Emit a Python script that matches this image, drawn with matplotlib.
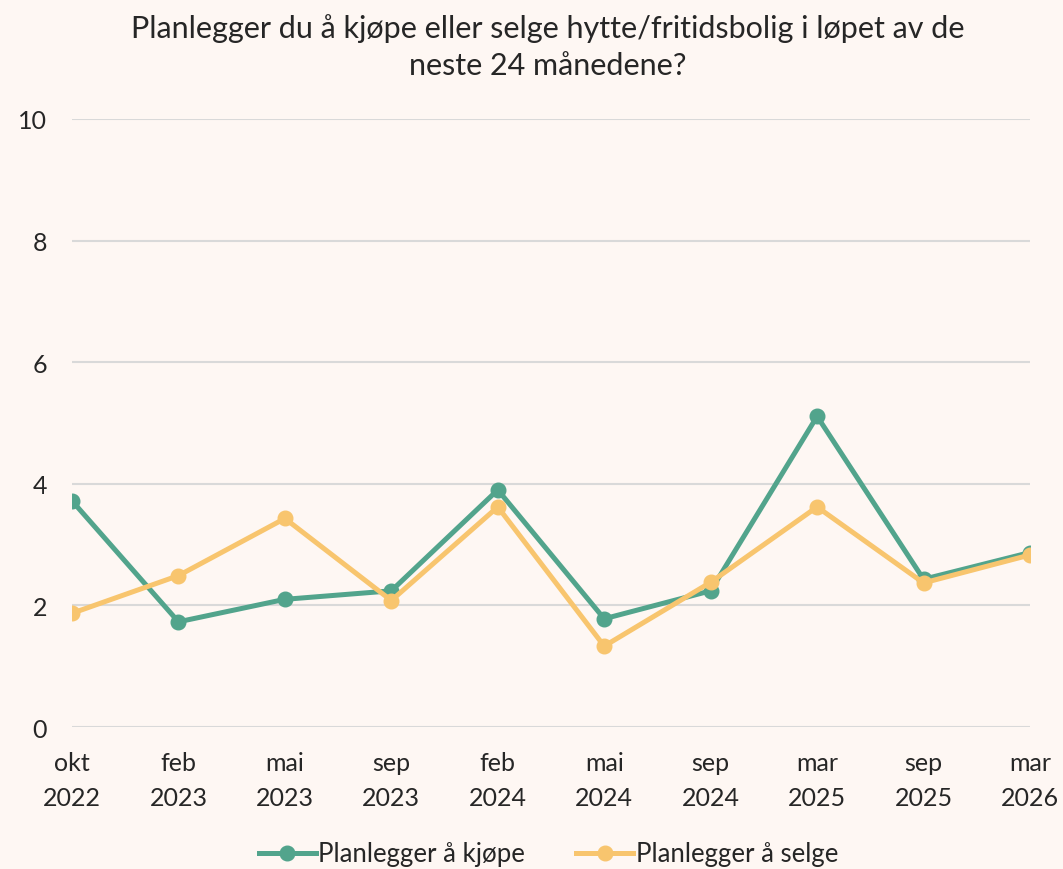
import matplotlib
matplotlib.use("Agg")
import matplotlib.pyplot as plt

categories = ["okt\n2022", "feb\n2023", "mai\n2023", "sep\n2023", "feb\n2024",
              "mai\n2024", "sep\n2024", "mar\n2025", "sep\n2025", "mar\n2026"]
kjope = [3.72, 1.73, 2.10, 2.24, 3.90, 1.78, 2.24, 5.11, 2.43, 2.87]
selge = [1.87, 2.49, 3.43, 2.08, 3.62, 1.33, 2.38, 3.62, 2.37, 2.83]
yticks = [0, 2, 4, 6, 8, 10]

plt.rcParams['font.family'] = ['Lato', 'DejaVu Sans']
bg = "#FEF7F3"
green = "#52A48C"
orange = "#F8C56E"
textc = "#262626"

fig = plt.figure(figsize=(10.63, 8.7), dpi=100, facecolor=bg)
ax = fig.add_axes([72/1063, 1-728/870, (1030-72)/1063, (728-120)/870])
ax.set_facecolor(bg)

x = list(range(len(categories)))
ax.plot(x, kjope, color=green, lw=3.6, marker='o', ms=10.5, label="Planlegger å kjøpe", zorder=3)
ax.plot(x, selge, color=orange, lw=3.6, marker='o', ms=10.5, label="Planlegger å selge", zorder=3)

ax.set_xlim(0, 9)
ax.set_ylim(0, 10)
ax.set_yticks(yticks)
ax.set_xticks(x)
ax.set_xticklabels(categories, fontsize=18, color=textc, linespacing=1.65)
ax.tick_params(axis='y', labelsize=18, labelcolor=textc, length=0, pad=18)
ax.tick_params(axis='x', length=0, pad=17)
ax.grid(axis='y', color="#D9D9D9", lw=1.5)
ax.set_axisbelow(True)
for s in ax.spines.values():
    s.set_visible(False)

fig.text(0.515, 1-47/870, "Planlegger du å kjøpe eller selge hytte/fritidsbolig i løpet av de\nneste 24 månedene?",
         ha='center', va='center', fontsize=22, color=textc, linespacing=1.35)

fig.legend(loc='center', bbox_to_anchor=(0.516, 1-855/870), ncol=2, frameon=False,
           fontsize=18.5, labelcolor=textc, handlelength=2.2, handletextpad=0.1,
           columnspacing=2, borderaxespad=0)

fig.savefig("out.png", dpi=100, facecolor=bg)
